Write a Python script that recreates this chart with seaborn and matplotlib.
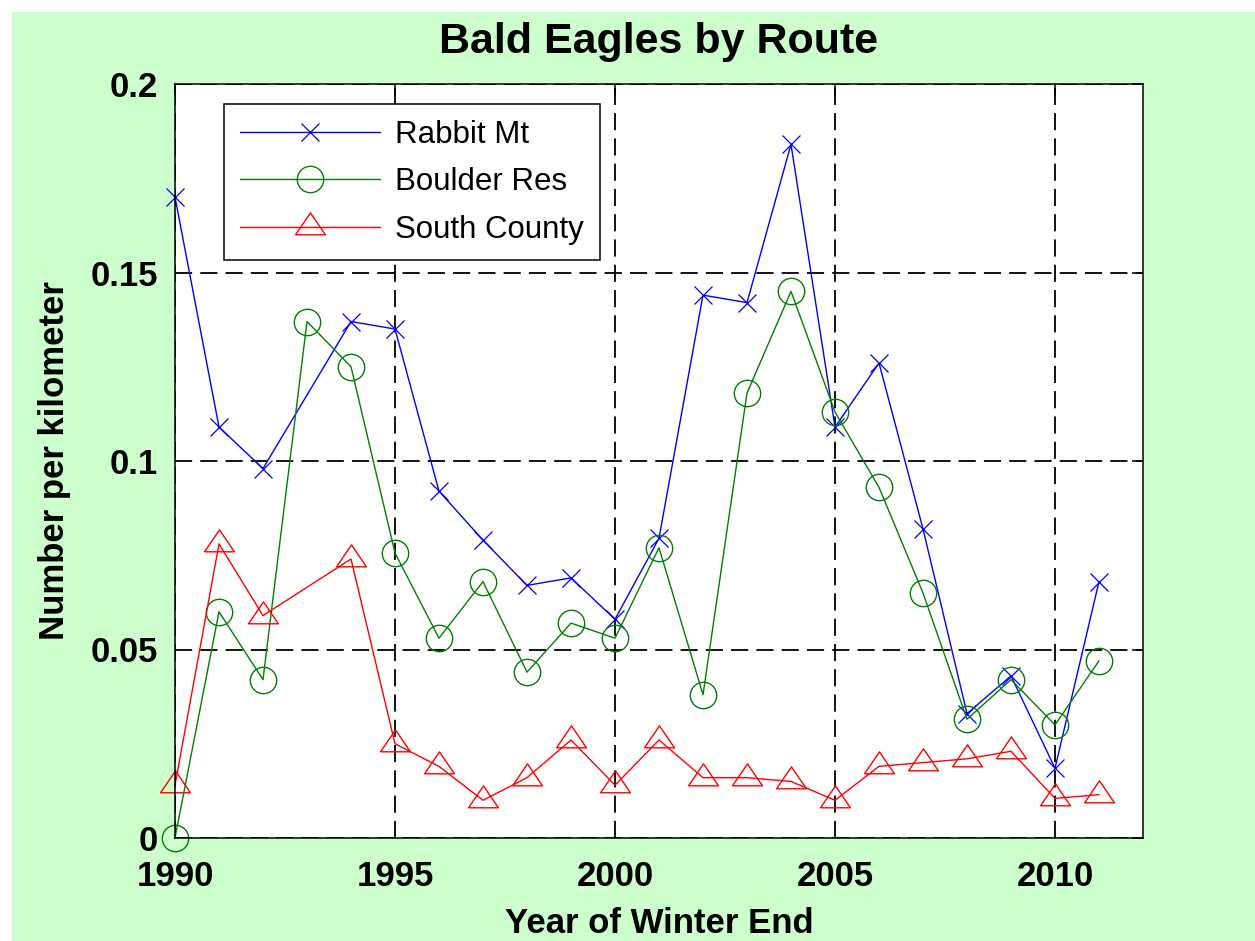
import numpy as np
import seaborn as sns
import matplotlib.pyplot as plt
from matplotlib.patches import Rectangle
from matplotlib.ticker import FuncFormatter

# Data (Rabbit Mt and South County have no 1993 survey)
years_rabbit = [1990, 1991, 1992, 1994, 1995, 1996, 1997, 1998, 1999, 2000, 2001,
                2002, 2003, 2004, 2005, 2006, 2007, 2008, 2009, 2010, 2011]
rabbit_mt = [0.170, 0.109, 0.098, 0.137, 0.135, 0.092, 0.079, 0.067, 0.069, 0.058, 0.0795,
             0.144, 0.142, 0.184, 0.109, 0.126, 0.082, 0.033, 0.043, 0.0185, 0.068]

years_boulder = list(range(1990, 2012))
boulder_res = [0.000, 0.060, 0.042, 0.137, 0.125, 0.0756, 0.053, 0.068, 0.044, 0.057, 0.053,
               0.077, 0.038, 0.118, 0.145, 0.113, 0.093, 0.065, 0.0315, 0.042, 0.030, 0.047]

years_south = [1990, 1991, 1992, 1994, 1995, 1996, 1997, 1998, 1999, 2000, 2001,
               2002, 2003, 2004, 2005, 2006, 2007, 2008, 2009, 2010, 2011]
south_county = [0.014, 0.078, 0.059, 0.074, 0.025, 0.019, 0.010, 0.016, 0.026, 0.014, 0.026,
                0.016, 0.016, 0.015, 0.010, 0.019, 0.020, 0.021, 0.023, 0.0105, 0.0115]

x_ticks = [1990, 1995, 2000, 2005, 2010]
y_ticks = [0, 0.05, 0.1, 0.15, 0.2]

sns.set_style("white")
plt.rcParams['font.family'] = ['Liberation Sans', 'DejaVu Sans']
plt.rcParams['text.color'] = 'black'
plt.rcParams['axes.labelcolor'] = 'black'
plt.rcParams['xtick.color'] = 'black'
plt.rcParams['ytick.color'] = 'black'

fig = plt.figure(figsize=(12.55, 9.41), dpi=100, facecolor='white')
# light green figure background with a thin white margin top/left
fig.patches.append(Rectangle((12 / 1255, 0), 1 - 12 / 1255, 1 - 12 / 941,
                             transform=fig.transFigure, facecolor='#ccffcc',
                             edgecolor='none', zorder=-1))
ax = fig.add_axes([175 / 1255, 103 / 941, 968 / 1255, 754 / 941])
ax.set_facecolor('white')

# MATLAB-style triangle, centred on its centroid
tri = [(-1, -0.489), (1, -0.489), (0, 0.978), (-1, -0.489)]

sns.lineplot(x=years_rabbit, y=rabbit_mt, ax=ax, color='blue', linewidth=1.0,
             marker='x', markersize=13, markeredgewidth=0.9, markeredgecolor='blue',
             errorbar=None, label='Rabbit Mt', clip_on=False)
sns.lineplot(x=years_boulder, y=boulder_res, ax=ax, color='green', linewidth=1.0,
             marker='o', markersize=19, markeredgewidth=1.0, markeredgecolor='green',
             markerfacecolor='none', errorbar=None, label='Boulder Res', clip_on=False)
sns.lineplot(x=years_south, y=south_county, ax=ax, color='red', linewidth=1.0,
             marker=tri, markersize=21.5, markeredgewidth=1.0, markeredgecolor='red',
             markerfacecolor='none', errorbar=None, label='South County', clip_on=False)

ax.set_xlim(1990, 2012)
ax.set_ylim(0, 0.2)
ax.set_xticks(x_ticks)
ax.set_yticks(y_ticks)
ax.yaxis.set_major_formatter(FuncFormatter(lambda v, p: f'{v:g}'))

ax.set_axisbelow(True)
ax.grid(True, color='black', linestyle=(0, (9.5, 4.5)), linewidth=1.3)
for s in ax.spines.values():
    s.set_color('black')
    s.set_linewidth(1.1)
ax.tick_params(axis='both', direction='in', length=8, width=1.1, color='black',
               labelcolor='black', top=True, right=True, labelsize=25)
ax.tick_params(axis='x', pad=16)
ax.tick_params(axis='y', pad=12)
for lab in ax.get_xticklabels() + ax.get_yticklabels():
    lab.set_fontweight('bold')

ax.set_title('Bald Eagles by Route', fontsize=31, fontweight='bold', pad=22, color='black')
ax.set_xlabel('Year of Winter End', fontsize=25, fontweight='bold', labelpad=10, color='black')
ax.set_ylabel('Number per kilometer', fontsize=25, fontweight='bold', labelpad=14, color='black')

leg = ax.legend(loc='upper left', bbox_to_anchor=(0.0506, 0.9735), borderaxespad=0,
                fontsize=22.5, handlelength=4.5, handletextpad=0.48, labelspacing=0.56,
                borderpad=0.5, fancybox=False, framealpha=1, shadow=False)
leg.get_frame().set_edgecolor('black')
leg.get_frame().set_linewidth(1.1)
for t in leg.get_texts():
    t.set_color('black')

fig.savefig('out.png', dpi=100)
